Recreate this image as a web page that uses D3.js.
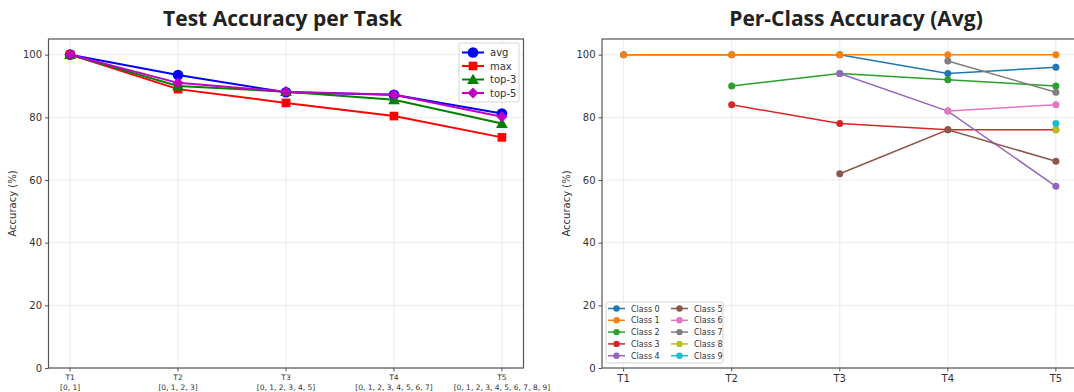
<!DOCTYPE html>
<html><head><meta charset="utf-8">
<script src="https://cdn.jsdelivr.net/npm/d3@7"></script>
<style>body{margin:0;background:#fff;}svg{display:block;font-family:"DejaVu Sans",sans-serif;}</style>
</head><body><svg id="c" width="1074" height="392"></svg>
<script>
const tasks = ["T1","T2","T3","T4","T5"];
const taskClasses = ["[0, 1]","[0, 1, 2, 3]","[0, 1, 2, 3, 4, 5]","[0, 1, 2, 3, 4, 5, 6, 7]","[0, 1, 2, 3, 4, 5, 6, 7, 8, 9]"];
const yTicks = [0,20,40,60,80,100];
const avgAcc = [100,93.5,88.0,87.2,81.2];
const maxAcc = [100,89.0,84.6,80.4,73.6];
const top3Acc = [100,90.0,88.2,85.6,78.0];
const top5Acc = [100,91.0,88.2,87.2,80.2];
const seriesNames = ["avg","max","top-3","top-5"];
const seriesColors = ["#0000ff","#ff0000","#008000","#bf00bf"];
const seriesMarkers = ["circle","square","triangle","diamond"];
const classNames = ["Class 0","Class 1","Class 2","Class 3","Class 4","Class 5","Class 6","Class 7","Class 8","Class 9"];
const classColors = ["#1f77b4","#ff7f0e","#2ca02c","#d62728","#9467bd","#8c564b","#e377c2","#7f7f7f","#bcbd22","#17becf"];
const class0 = [100,100,100,94,96];
const class1 = [100,100,100,100,100];
const class2 = [null,90,94,92,90];
const class3 = [null,84,78,76,76];
const class4 = [null,null,94,82,58];
const class5 = [null,null,62,76,66];
const class6 = [null,null,null,82,84];
const class7 = [null,null,null,98,88];
const class8 = [null,null,null,null,76];
const class9 = [null,null,null,null,78];
const classData = [class0,class1,class2,class3,class4,class5,class6,class7,class8,class9];

const svg = d3.select("#c");
const axisColor = "#555";
const textColor = "#333";

function panel(x0, x1, y0, y1, title, titleX, ylabelX){
  const g = svg.append("g");
  const x = d3.scaleLinear().domain([-0.2, 4.2]).range([x0, x1]);
  const y = d3.scaleLinear().domain([0, 105]).range([y1, y0]);
  g.append("g").selectAll("line").data(yTicks).join("line")
    .attr("x1",x0).attr("x2",x1).attr("y1",d=>y(d)).attr("y2",d=>y(d))
    .attr("stroke","#b0b0b0").attr("stroke-opacity",0.3).attr("stroke-width",0.8);
  g.append("g").selectAll("line").data(d3.range(tasks.length)).join("line")
    .attr("x1",d=>x(d)).attr("x2",d=>x(d)).attr("y1",y0).attr("y2",y1)
    .attr("stroke","#b0b0b0").attr("stroke-opacity",0.3).attr("stroke-width",0.8);
  svg.append("text").attr("x",titleX).attr("y",26).attr("text-anchor","middle")
    .attr("font-family","'Open Sans','Noto Sans',sans-serif")
    .attr("font-size",21).attr("font-weight","bold").attr("fill","#222").text(title);
  svg.append("text").attr("transform",`translate(${ylabelX},${(y0+y1)/2}) rotate(-90)`)
    .attr("text-anchor","middle").attr("font-size",10).attr("fill",textColor).text("Accuracy (%)");
  return {g,x,y};
}

function frame(p, x0, x1, y0, y1){
  const g = p.g;
  g.append("rect").attr("x",x0).attr("y",y0).attr("width",x1-x0).attr("height",y1-y0)
    .attr("fill","none").attr("stroke",axisColor).attr("stroke-width",1.2);
  const ya = g.append("g").attr("transform",`translate(${x0},0)`)
    .call(d3.axisLeft(p.y).tickValues(yTicks).tickSize(3.5).tickPadding(3));
  ya.select(".domain").remove();
  ya.selectAll("line").attr("stroke",axisColor);
  ya.selectAll("text").attr("font-size",10).attr("fill",textColor).attr("font-family","DejaVu Sans");
}

const L = {x0:48.5, x1:523.5, y0:39, y1:368};
const pl = panel(L.x0, L.x1, L.y0, L.y1, "Test Accuracy per Task", 282.5, 16);
const leftSeries = [avgAcc, maxAcc, top3Acc, top5Acc];
function markerPath(type){
  if(type==="circle") return d3.symbol().type(d3.symbolCircle).size(90)();
  if(type==="square") return d3.symbol().type(d3.symbolSquare).size(75)();
  if(type==="triangle") return d3.symbol().type(d3.symbolTriangle).size(60)();
  return d3.symbol().type(d3.symbolSquare).size(60)();
}
function markerTf(type, cx, cy){
  return `translate(${cx},${cy})` + (type==="diamond" ? " rotate(45)" : "") + (type==="triangle" ? " translate(0,1)" : "");
}
leftSeries.forEach((vals,i)=>{
  const line = d3.line().x((d,j)=>pl.x(j)).y(d=>pl.y(d));
  pl.g.append("path").datum(vals).attr("d",line).attr("fill","none")
    .attr("stroke",seriesColors[i]).attr("stroke-width",2);
  pl.g.selectAll(null).data(vals).join("path")
    .attr("transform",(d,j)=>markerTf(seriesMarkers[i], pl.x(j), pl.y(d)))
    .attr("d",markerPath(seriesMarkers[i]))
    .attr("fill",seriesColors[i]);
});
frame(pl, L.x0, L.x1, L.y0, L.y1);
const xl = pl.g.append("g");
tasks.forEach((t,i)=>{
  xl.append("line").attr("x1",pl.x(i)).attr("x2",pl.x(i)).attr("y1",L.y1).attr("y2",L.y1+3.5).attr("stroke",axisColor);
  const tx = xl.append("text").attr("x",pl.x(i)).attr("y",L.y1+12).attr("text-anchor","middle")
    .attr("font-size",7.5).attr("fill",textColor);
  tx.append("tspan").attr("x",pl.x(i)).text(t);
  tx.append("tspan").attr("x",pl.x(i)).attr("dy",9.5).text(taskClasses[i]);
});
const lg = pl.g.append("g");
lg.append("rect").attr("x",459).attr("y",43).attr("width",60).attr("height",59).attr("rx",2)
  .attr("fill","#fff").attr("fill-opacity",0.85).attr("stroke","#ccc").attr("stroke-width",0.8);
seriesNames.forEach((n,i)=>{
  const yy = 52.5 + i*13.5;
  lg.append("line").attr("x1",462).attr("x2",484).attr("y1",yy).attr("y2",yy).attr("stroke",seriesColors[i]).attr("stroke-width",2);
  lg.append("path").attr("transform",markerTf(seriesMarkers[i],473,yy))
    .attr("d",markerPath(seriesMarkers[i])).attr("fill",seriesColors[i]);
  lg.append("text").attr("x",490).attr("y",yy+3.5).attr("font-size",10).attr("fill",textColor).text(n);
});

const R = {x0:602, x1:1077.5, y0:39, y1:368};
const pr = panel(R.x0, R.x1, R.y0, R.y1, "Per-Class Accuracy (Avg)", 856, 570);
classData.forEach((vals,i)=>{
  const pts = vals.map((v,j)=>({v,j})).filter(d=>d.v!==null);
  const line = d3.line().x(d=>pr.x(d.j)).y(d=>pr.y(d.v));
  pr.g.append("path").datum(pts).attr("d",line).attr("fill","none")
    .attr("stroke",classColors[i]).attr("stroke-width",1.5);
  pr.g.selectAll(null).data(pts).join("circle")
    .attr("cx",d=>pr.x(d.j)).attr("cy",d=>pr.y(d.v)).attr("r",3.5).attr("fill",classColors[i]);
});
frame(pr, R.x0, R.x1, R.y0, R.y1);
const xr = pr.g.append("g");
tasks.forEach((t,i)=>{
  xr.append("line").attr("x1",pr.x(i)).attr("x2",pr.x(i)).attr("y1",R.y1).attr("y2",R.y1+3.5).attr("stroke",axisColor);
  xr.append("text").attr("x",pr.x(i)).attr("y",R.y1+14).attr("text-anchor","middle")
    .attr("font-size",10).attr("fill",textColor).text(t);
});
const rg = pr.g.append("g");
rg.append("rect").attr("x",606).attr("y",302).attr("width",117).attr("height",61).attr("rx",2)
  .attr("fill","#fff").attr("fill-opacity",0.85).attr("stroke","#ccc").attr("stroke-width",0.8);
classNames.forEach((n,i)=>{
  const col = Math.floor(i/5), row = i%5;
  const lx = col===0 ? 608 : 671;
  const yy = 308.5 + row*11.8;
  rg.append("line").attr("x1",lx).attr("x2",lx+17).attr("y1",yy).attr("y2",yy).attr("stroke",classColors[i]).attr("stroke-width",1.5);
  rg.append("circle").attr("cx",lx+8.5).attr("cy",yy).attr("r",3.2).attr("fill",classColors[i]);
  rg.append("text").attr("x",lx+23).attr("y",yy+3).attr("font-size",8).attr("fill",textColor).text(n);
});
</script>
</body></html>
